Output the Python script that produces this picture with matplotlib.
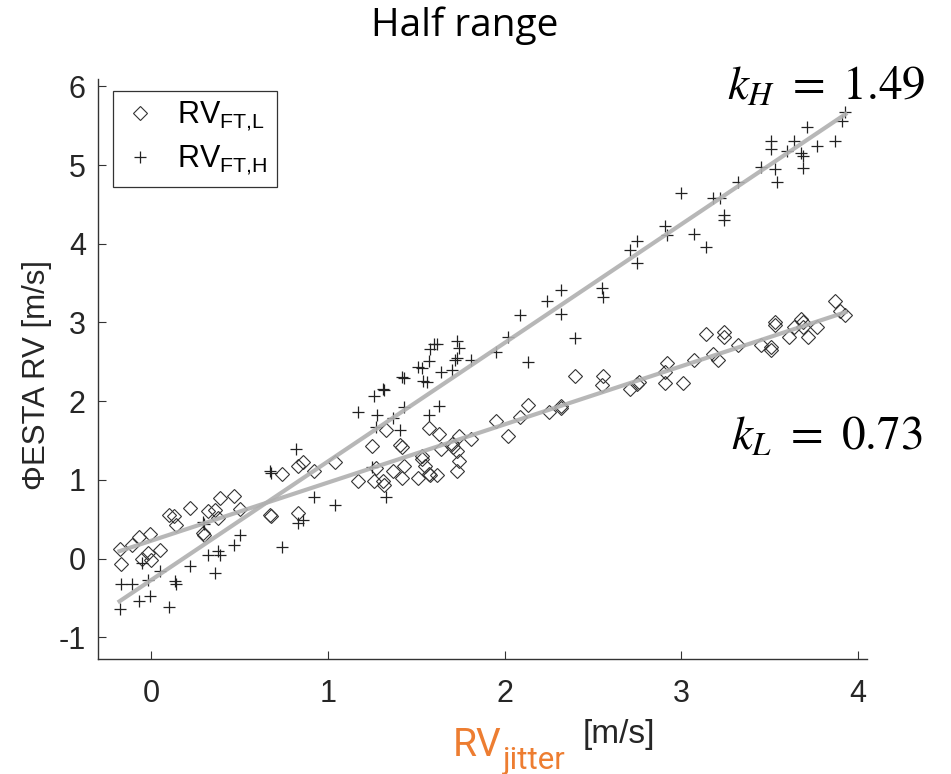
import matplotlib
matplotlib.use("Agg")
import matplotlib.pyplot as plt
import numpy as np

# RV_FT,L (diamonds)
xL = [-0.18, -0.17, -0.11, -0.07, -0.01, -0.05, -0.02, 0.00, 0.05, 0.10, 0.13, 0.14, 0.22, 0.29, 0.30,
      0.32, 0.36, 0.38, 0.39, 0.47, 0.50, 0.67, 0.68, 0.74, 0.83, 0.83, 0.86, 0.92, 1.04,
      1.17, 1.25, 1.27, 1.26, 1.31, 1.32, 1.33, 1.37, 1.41, 1.42, 1.43, 1.42, 1.51, 1.53, 1.53,
      1.55, 1.57, 1.58, 1.62, 1.57, 1.63, 1.64, 1.70, 1.71, 1.74, 1.73, 1.74, 1.73, 1.81, 1.95, 2.02,
      2.09, 2.13, 2.25, 2.32, 2.32, 2.40, 2.56, 2.55, 2.71, 2.75, 2.76, 2.91, 2.91, 2.92, 3.01,
      3.07, 3.14, 3.18, 3.21, 3.24, 3.24, 3.32, 3.45, 3.51, 3.51, 3.53, 3.53, 3.61, 3.64, 3.68,
      3.69, 3.69, 3.72, 3.77, 3.87, 3.90, 3.93]
yL = [0.12, -0.07, 0.17, 0.28, 0.31, 0.00, 0.07, -0.02, 0.11, 0.56, 0.54, 0.43, 0.64, 0.32, 0.30,
      0.60, 0.62, 0.51, 0.77, 0.79, 0.63, 0.55, 0.54, 1.08, 0.58, 1.18, 1.23, 1.11, 1.23,
      0.98, 1.43, 1.15, 0.98, 0.98, 0.94, 1.64, 1.11, 1.44, 1.42, 1.17, 1.03, 1.03, 1.30, 1.26,
      1.17, 1.07, 1.06, 1.06, 1.66, 1.58, 1.39, 1.45, 1.42, 1.56, 1.37, 1.24, 1.11, 1.52, 1.75, 1.56,
      1.80, 1.95, 1.86, 1.94, 1.91, 2.32, 2.32, 2.20, 2.15, 2.22, 2.24, 2.23, 2.37, 2.49, 2.23,
      2.52, 2.86, 2.60, 2.52, 2.88, 2.82, 2.72, 2.71, 2.69, 2.65, 3.01, 2.97, 2.82, 2.94, 3.04,
      3.00, 2.94, 2.81, 2.94, 3.27, 3.15, 3.09]

# RV_FT,H (crosses)
xH = [-0.18, -0.17, -0.11, -0.07, -0.01, -0.05, -0.02, 0.05, 0.10, 0.135, 0.14, 0.22, 0.29, 0.30,
      0.32, 0.36, 0.38, 0.39, 0.47, 0.50, 0.67, 0.68, 0.74, 0.82, 0.83, 0.86, 0.92, 1.04,
      1.17, 1.26, 1.28, 1.27, 1.31, 1.32, 1.33, 1.25, 1.37, 1.41, 1.42, 1.43, 1.43, 1.51, 1.53,
      1.54, 1.56, 1.57, 1.57, 1.58, 1.60, 1.62, 1.63, 1.64, 1.70, 1.72, 1.73, 1.74, 1.73, 1.81, 1.95,
      2.02, 2.09, 2.13, 2.24, 2.32, 2.32, 2.40, 2.55, 2.56, 2.71, 2.75, 2.75, 2.91, 2.92, 3.00,
      3.07, 3.14, 3.18, 3.22, 3.24, 3.24, 3.32, 3.45, 3.51, 3.51, 3.53, 3.54, 3.60, 3.64, 3.68,
      3.69, 3.69, 3.71, 3.77, 3.87, 3.91, 3.93]
yH = [-0.64, -0.32, -0.32, -0.54, -0.48, -0.05, -0.27, -0.16, -0.62, -0.29, -0.32, -0.10, 0.47, 0.44,
      0.04, -0.18, 0.09, 0.05, 0.17, 0.30, 1.11, 1.09, 0.15, 1.39, 0.45, 0.49, 0.78, 0.68,
      1.86, 2.06, 1.83, 1.67, 2.15, 2.14, 0.78, 1.16, 1.78, 1.64, 2.31, 2.30, 1.92, 2.43, 2.42,
      2.26, 2.25, 1.83, 2.51, 2.66, 2.73, 2.73, 1.94, 2.37, 2.39, 2.52, 2.77, 2.68, 2.55, 2.52, 2.62,
      2.81, 3.09, 2.50, 3.27, 3.41, 3.11, 2.80, 3.44, 3.32, 3.92, 4.04, 3.75, 4.22, 4.11, 4.65,
      4.12, 3.96, 4.58, 4.58, 4.37, 4.30, 4.78, 4.98, 5.31, 5.20, 4.95, 4.79, 5.18, 5.31, 5.15,
      5.11, 4.96, 5.48, 5.24, 5.31, 5.56, 5.67]

x_ticks = [0, 1, 2, 3, 4]
y_ticks = [-1, 0, 1, 2, 3, 4, 5, 6]
k_labels = ["1.49", "0.73"]

plt.rcParams['font.family'] = ['Liberation Sans', 'DejaVu Sans']
plt.rcParams['mathtext.fontset'] = 'custom'
plt.rcParams['mathtext.rm'] = 'Liberation Sans'
plt.rcParams['axes.unicode_minus'] = False

fig = plt.figure(figsize=(9.51, 7.74), dpi=100)
ax = fig.add_axes([0.1034, 0.1482, 0.8079, 0.7493])

ax.plot(xL, yL, linestyle='none', marker='D', ms=6.8, mfc='none', mec='#333333', mew=0.8,
        label=r'RV$_{\mathregular{FT{,}L}}$')
ax.plot(xH, yH, linestyle='none', marker='+', ms=9, mec='#222222', mew=0.9,
        label=r'RV$_{\mathregular{FT{,}H}}$')

# linear fits
for xs, ys in [(xL, yL), (xH, yH)]:
    xs = np.array(xs)
    p = np.polyfit(xs, ys, 1)
    xx = np.array([xs.min(), xs.max()])
    ax.plot(xx, np.polyval(p, xx), color='#b0b0b0', lw=3, alpha=0.9, zorder=3)

ax.set_xlim(-0.3, 4.05)
ax.set_ylim(-1.28, 6.09)
ax.set_xticks(x_ticks)
ax.set_yticks(y_ticks)
ax.tick_params(direction='in', length=6, width=0.8, color='#333333', labelcolor='#262626',
               labelsize=22)
ax.tick_params(axis='x', pad=14)
ax.tick_params(axis='y', pad=9)
for s in ['top', 'right']:
    ax.spines[s].set_visible(False)
for s in ['left', 'bottom']:
    ax.spines[s].set_color('#333333')
    ax.spines[s].set_linewidth(1.0)

leg = ax.legend(loc='upper left', bbox_to_anchor=(0.019, 0.98), borderaxespad=0,
                fontsize=22, fancybox=False, edgecolor='#333333', framealpha=1,
                handlelength=1.2, handletextpad=0.6, labelspacing=0.35, borderpad=0.3)
leg.get_frame().set_linewidth(0.9)

ax.set_ylabel('\u03a6ESTA RV [m/s]', fontsize=22.5, color='#262626')
ax.yaxis.set_label_coords(-0.06, 0.49)

fig.text(0.489, 0.953, 'Half range', ha='center', va='baseline', fontsize=28, family='Open Sans')

fig.text(0.476, 0.0235, 'RV', ha='left', va='baseline', fontsize=28, family='Roboto', color='#ed7d31')
fig.text(0.529, 0.006, 'jitter', ha='left', va='baseline', fontsize=22.5, family='Roboto', color='#ed7d31')
fig.text(0.613, 0.0404, '[m/s]', ha='left', va='baseline', fontsize=24, color='#262626')

fig.text(0.9727, 0.871, r'$k_H\ =\ %s$' % k_labels[0], ha='right', va='baseline', fontsize=34,
         math_fontfamily='stix')
fig.text(0.9706, 0.4186, r'$k_L\ =\ %s$' % k_labels[1], ha='right', va='baseline', fontsize=34,
         math_fontfamily='stix')

fig.savefig('out.png', dpi=100)
